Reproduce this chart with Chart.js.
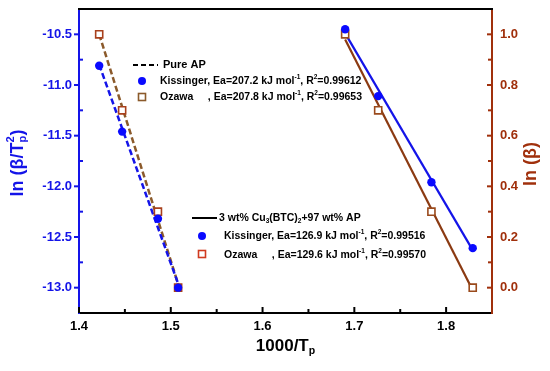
<!DOCTYPE html>
<html>
<head>
<meta charset="utf-8">
<title>Kissinger / Ozawa</title>
<script src="https://cdn.jsdelivr.net/npm/chart.js"></script>
<style>
  body { margin: 0; background: #fff; }
</style>
</head>
<body>
<canvas id="grafica" width="550" height="371"></canvas>
<script>
// 1000/Tp for each heating rate
const xPureAP = [1.422, 1.447, 1.486, 1.508];
const xComposite = [1.690, 1.726, 1.784, 1.829];

// ln(beta/Tp^2) - Kissinger (left axis)
const kisPureAP = [-10.81, -11.46, -12.32, -13.00];
const kisComposite = [-10.45, -11.11, -11.96, -12.61];

// ln(beta) - Ozawa (right axis)
const ozaPureAP = [1.00, 0.70, 0.30, 0.00];
const ozaComposite = [1.00, 0.70, 0.30, 0.00];

// fitted lines (start, end)
const fitX_PureAP = [1.422, 1.508];
const fitKis_PureAP = [-10.80, -12.96];
const fitOza_PureAP = [1.00, 0.015];
const fitX_Composite = [1.690, 1.829];
const fitKis_Composite = [-10.49, -12.63];
const fitOza_Composite = [0.98, -0.01];

// tick labels
const xTicks = [1.4, 1.5, 1.6, 1.7, 1.8];
const yTicksLeft = [-13.0, -12.5, -12.0, -11.5, -11.0, -10.5];
const yTicksRight = [0.0, 0.2, 0.4, 0.6, 0.8, 1.0];

const FONT = '"Liberation Sans", Arial, sans-serif';
const BLUE = '#1414e8';
const MARK_BLUE = '#0a0aff';
const RED = '#a0300c';
const SQ = '#a8401c';

function pts(xs, ys) {
    return xs.map((x, i) => ({ x: x, y: ys[i] }));
}

// draws text pieces in a row; sup/sub are smaller, "stack" puts a piece above the previous one
function richText(ctx, x, y, parts, size, measureOnly) {
    let prevX = x;
    for (const p of parts) {
        const s = (p.sup || p.sub) ? size * 0.62 : size;
        ctx.font = 'bold ' + s + 'px ' + FONT;
        const dy = p.sup ? -size * 0.38 : (p.sub ? size * 0.28 : 0);
        let px = x;
        if (p.stack) px = prevX;
        if (!measureOnly) ctx.fillText(p.t, px, y + dy);
        const w = ctx.measureText(p.t).width;
        prevX = px;
        x = Math.max(x, px + w);
    }
    return x;
}

function textWidth(ctx, parts, size) {
    return richText(ctx, 0, 0, parts, size, true);
}

function square(ctx, x, y, color) {
    ctx.fillStyle = '#fff';
    ctx.fillRect(x - 3.5, y - 3.5, 7, 7);
    ctx.strokeStyle = color;
    ctx.lineWidth = 1.6;
    ctx.strokeRect(x - 3.5, y - 3.5, 7, 7);
}

function circle(ctx, x, y) {
    ctx.fillStyle = MARK_BLUE;
    ctx.beginPath();
    ctx.arc(x, y, 4, 0, Math.PI * 2);
    ctx.fill();
}

// border, ticks, axis titles and the two legends
const extras = {
    id: 'extras',
    afterDraw(chart) {
        const ctx = chart.ctx;
        const a = chart.chartArea;
        const sx = chart.scales.x, sy = chart.scales.y, sr = chart.scales.y1;
        ctx.save();

        ctx.strokeStyle = '#000';
        ctx.lineWidth = 2;
        ctx.beginPath();
        ctx.moveTo(a.left - 1, a.top);
        ctx.lineTo(a.right + 1, a.top);
        ctx.stroke();

        // x ticks (inward)
        ctx.lineWidth = 2;
        xTicks.forEach(v => {
            const px = sx.getPixelForValue(v);
            ctx.beginPath(); ctx.moveTo(px, a.bottom); ctx.lineTo(px, a.bottom - 6); ctx.stroke();
            const pm = sx.getPixelForValue(v + 0.05);
            if (pm < a.right - 2) {
                ctx.beginPath(); ctx.moveTo(pm, a.bottom); ctx.lineTo(pm, a.bottom - 4); ctx.stroke();
            }
        });

        // left ticks
        ctx.strokeStyle = BLUE;
        yTicksLeft.forEach(v => {
            const py = sy.getPixelForValue(v);
            ctx.beginPath(); ctx.moveTo(a.left - 5, py); ctx.lineTo(a.left, py); ctx.stroke();
            const pm = sy.getPixelForValue(v + 0.25);
            if (pm > a.top + 2) {
                ctx.beginPath(); ctx.moveTo(a.left, pm); ctx.lineTo(a.left + 4, pm); ctx.stroke();
            }
        });

        // right ticks
        ctx.strokeStyle = RED;
        yTicksRight.forEach(v => {
            const py = sr.getPixelForValue(v);
            ctx.beginPath(); ctx.moveTo(a.right, py); ctx.lineTo(a.right - 5, py); ctx.stroke();
            const pm = sr.getPixelForValue(v + 0.1);
            if (pm > a.top + 2) {
                ctx.beginPath(); ctx.moveTo(a.right, pm); ctx.lineTo(a.right - 4, pm); ctx.stroke();
            }
        });

        // axis titles
        ctx.textBaseline = 'middle';
        ctx.textAlign = 'left';
        const xt = [{ t: '1000/T' }, { t: 'p', sub: true }];
        ctx.fillStyle = '#000';
        richText(ctx, (a.left + a.right) / 2 - textWidth(ctx, xt, 17) / 2, 346, xt, 17);

        const lt = [{ t: 'ln (β/T' }, { t: 'p', sub: true }, { t: '2', sup: true, stack: true }, { t: ')' }];
        ctx.save();
        ctx.translate(18, 163);
        ctx.rotate(-Math.PI / 2);
        ctx.fillStyle = BLUE;
        richText(ctx, -textWidth(ctx, lt, 18) / 2, 0, lt, 18);
        ctx.restore();

        const rt = [{ t: 'ln (β)' }];
        ctx.save();
        ctx.translate(531, 164);
        ctx.rotate(-Math.PI / 2);
        ctx.fillStyle = RED;
        richText(ctx, -textWidth(ctx, rt, 18) / 2, 0, rt, 18);
        ctx.restore();

        // legend: pure AP
        ctx.strokeStyle = '#000';
        ctx.lineWidth = 2;
        ctx.setLineDash([5, 3]);
        ctx.beginPath(); ctx.moveTo(133, 65); ctx.lineTo(158, 65); ctx.stroke();
        ctx.setLineDash([]);
        ctx.fillStyle = '#000';
        richText(ctx, 163, 65, [{ t: 'Pure AP' }], 11);
        circle(ctx, 142, 81);
        ctx.fillStyle = '#000';
        richText(ctx, 160, 81, [{ t: 'Kissinger, Ea=207.2 kJ mol' }, { t: '-1', sup: true }, { t: ', R' }, { t: '2', sup: true }, { t: '=0.99612' }], 10.5);
        square(ctx, 142, 97, '#8b5a2b');
        ctx.fillStyle = '#000';
        richText(ctx, 160, 97, [{ t: 'Ozawa     , Ea=207.8 kJ mol' }, { t: '-1', sup: true }, { t: ', R' }, { t: '2', sup: true }, { t: '=0.99653' }], 10.5);

        // legend: composite
        ctx.strokeStyle = '#000';
        ctx.lineWidth = 2;
        ctx.beginPath(); ctx.moveTo(192, 218); ctx.lineTo(217, 218); ctx.stroke();
        ctx.fillStyle = '#000';
        richText(ctx, 219, 218, [{ t: '3 wt% Cu' }, { t: '3', sub: true }, { t: '(BTC)' }, { t: '2', sub: true }, { t: '+97 wt% AP' }], 10.5);
        circle(ctx, 202, 236);
        ctx.fillStyle = '#000';
        richText(ctx, 224, 236.5, [{ t: 'Kissinger, Ea=126.9 kJ mol' }, { t: '-1', sup: true }, { t: ', R' }, { t: '2', sup: true }, { t: '=0.99516' }], 10.5);
        square(ctx, 202, 254, '#d03a20');
        ctx.fillStyle = '#000';
        richText(ctx, 224, 255, [{ t: 'Ozawa     , Ea=129.6 kJ mol' }, { t: '-1', sup: true }, { t: ', R' }, { t: '2', sup: true }, { t: '=0.99570' }], 10.5);

        ctx.restore();
    }
};

const tickFont = { family: FONT, size: 13, weight: 'bold' };

function noPad(s) {
    s.paddingTop = 0; s.paddingBottom = 0; s.paddingLeft = 0; s.paddingRight = 0;
}

const grafica = new Chart(document.getElementById('grafica'), {
    type: 'scatter',
    data: {
        datasets: [
            { data: pts(xPureAP, kisPureAP), yAxisID: 'y', pointStyle: 'circle', pointRadius: 4.2, backgroundColor: MARK_BLUE, borderWidth: 0 },
            { data: pts(xComposite, kisComposite), yAxisID: 'y', pointStyle: 'circle', pointRadius: 4.2, backgroundColor: MARK_BLUE, borderWidth: 0 },
            { data: pts(xPureAP, ozaPureAP), yAxisID: 'y1', pointStyle: 'rect', pointRadius: 5, backgroundColor: '#fff', borderColor: SQ, borderWidth: 1.6 },
            { data: pts(xComposite, ozaComposite), yAxisID: 'y1', pointStyle: 'rect', pointRadius: 5, backgroundColor: '#fff', borderColor: '#9a4a1c', borderWidth: 1.6 },
            { data: pts(fitX_PureAP, fitKis_PureAP), yAxisID: 'y', showLine: true, pointRadius: 0, borderColor: BLUE, borderWidth: 2.5, borderDash: [6, 3] },
            { data: pts(fitX_PureAP, fitOza_PureAP), yAxisID: 'y1', showLine: true, pointRadius: 0, borderColor: '#8b5a2b', borderWidth: 2.5, borderDash: [6, 3] },
            { data: pts(fitX_Composite, fitKis_Composite), yAxisID: 'y', showLine: true, pointRadius: 0, borderColor: BLUE, borderWidth: 2.2 },
            { data: pts(fitX_Composite, fitOza_Composite), yAxisID: 'y1', showLine: true, pointRadius: 0, borderColor: '#8b3a12', borderWidth: 2.2 }
        ]
    },
    options: {
        responsive: false,
        animation: false,
        devicePixelRatio: 1,
        layout: { padding: { top: 9, left: 0, right: 0, bottom: 0 } },
        plugins: { legend: { display: false }, tooltip: { enabled: false } },
        scales: {
            x: {
                type: 'linear', min: 1.4, max: 1.85,
                afterBuildTicks: s => { s.ticks = xTicks.map(v => ({ value: v })); },
                afterFit: s => { s.height = 58; noPad(s); },
                ticks: { font: tickFont, color: '#000', padding: 6, maxRotation: 0, callback: v => v.toFixed(1) },
                grid: { display: false, drawTicks: false },
                border: { color: '#000', width: 2 }
            },
            y: {
                type: 'linear', position: 'left', min: -13.25, max: -10.25,
                afterBuildTicks: s => { s.ticks = yTicksLeft.map(v => ({ value: v })); },
                afterFit: s => { s.width = 79; noPad(s); },
                ticks: { font: tickFont, color: BLUE, padding: 7, callback: v => v.toFixed(1) },
                grid: { display: false, drawTicks: false },
                border: { color: BLUE, width: 2 }
            },
            y1: {
                type: 'linear', position: 'right', min: -0.1, max: 1.1,
                afterBuildTicks: s => { s.ticks = yTicksRight.map(v => ({ value: v })); },
                afterFit: s => { s.width = 58; noPad(s); },
                ticks: { font: tickFont, color: RED, padding: 8, callback: v => v.toFixed(1) },
                grid: { display: false, drawTicks: false },
                border: { color: RED, width: 2 }
            }
        }
    },
    plugins: [extras]
});
</script>
</body>
</html>
